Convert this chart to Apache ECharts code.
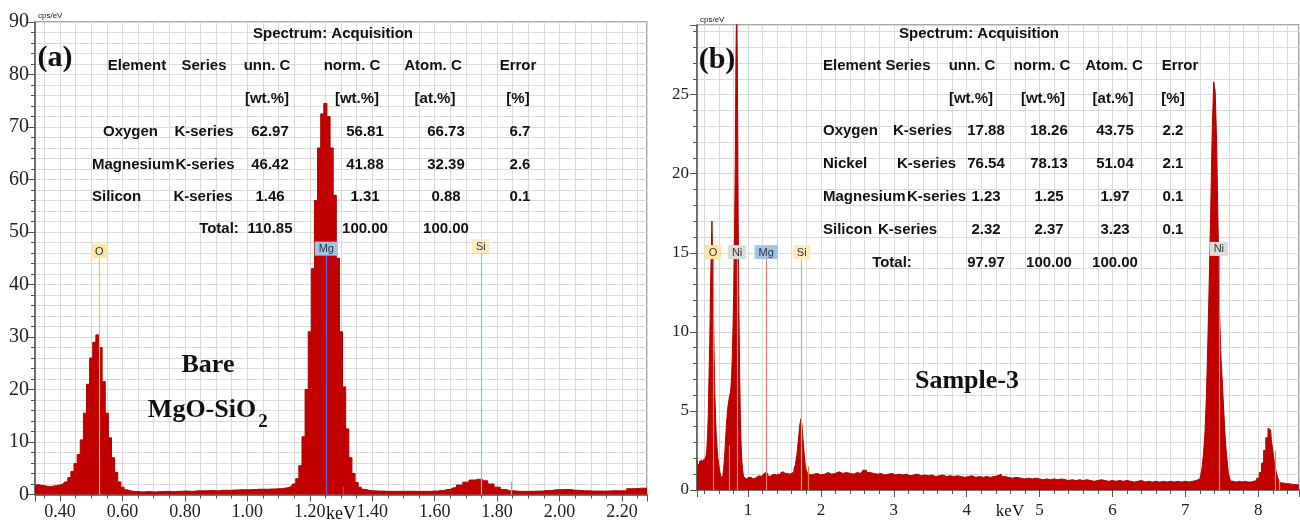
<!DOCTYPE html>
<html>
<head>
<meta charset="utf-8">
<title>EDS spectra</title>
<script src="https://cdn.jsdelivr.net/npm/echarts@6.0.0/dist/echarts.min.js"></script>
<style>
body{margin:0;background:#fff;}
#main{width:1300px;height:523px;}
</style>
</head>
<body>
<div id="main"></div>
<script>
// ---- panel (a): bare MgO-SiO2 spectrum, keV / cps/eV ----
const energyA = [0.32,0.33,0.34,0.35,0.36,0.37,0.38,0.39,0.40,0.41,0.42,0.43,0.44,0.45,0.46,0.47,0.48,0.49,0.50,0.51,0.52,0.53,0.54,0.55,0.56,0.57,0.58,0.59,0.60,0.61,0.62,0.64,0.66,0.68,0.70,0.72,0.74,0.76,0.78,0.80,0.82,0.84,0.86,0.88,0.90,0.92,0.94,0.96,0.98,1.00,1.02,1.04,1.06,1.08,1.10,1.12,1.13,1.14,1.15,1.16,1.17,1.18,1.19,1.20,1.21,1.22,1.23,1.24,1.25,1.26,1.27,1.28,1.29,1.30,1.31,1.32,1.33,1.34,1.35,1.36,1.37,1.38,1.40,1.42,1.45,1.48,1.51,1.54,1.57,1.60,1.62,1.64,1.66,1.68,1.70,1.72,1.74,1.76,1.78,1.80,1.82,1.84,1.87,1.90,1.93,1.96,1.99,2.02,2.05,2.08,2.11,2.14,2.17,2.20,2.23,2.26,2.28]
const countsA = [1.8,1.85,1.75,1.7,1.55,1.5,1.6,1.7,1.8,2.0,2.4,3.2,4.4,5.9,7.6,10.4,15.5,21.0,26.0,29.0,30.4,28.0,21.5,15.5,10.8,7.0,4.2,2.4,1.4,0.9,0.65,0.55,0.5,0.55,0.5,0.55,0.6,0.55,0.6,0.65,0.6,0.7,0.7,0.75,0.7,0.8,0.8,0.85,0.9,0.9,0.95,1.0,1.0,1.05,1.1,1.2,1.3,1.5,2.0,3.0,5.5,11,20,31,43,56,66,72.5,74.5,72,66,57,45,31,20.5,12.5,7,4,2.3,1.4,1.0,0.8,0.7,0.65,0.6,0.6,0.62,0.6,0.6,0.65,0.75,0.95,1.3,1.8,2.35,2.75,2.9,2.6,2.0,1.4,0.95,0.7,0.6,0.6,0.65,0.75,0.9,0.95,0.8,0.7,0.65,0.65,0.7,0.7,1.1,1.2,1.2]

// ---- panel (b): Sample-3 spectrum ----
const energyB = [0.30,0.31,0.32,0.33,0.34,0.35,0.36,0.37,0.38,0.39,0.40,0.41,0.42,0.43,0.44,0.45,0.46,0.47,0.48,0.49,0.50,0.51,0.52,0.53,0.54,0.55,0.56,0.57,0.58,0.59,0.60,0.61,0.62,0.63,0.64,0.65,0.66,0.67,0.68,0.69,0.70,0.71,0.72,0.73,0.74,0.75,0.76,0.77,0.78,0.79,0.80,0.81,0.82,0.83,0.84,0.85,0.86,0.87,0.88,0.89,0.90,0.91,0.92,0.93,0.94,0.95,0.96,0.98,1.00,1.02,1.04,1.06,1.08,1.10,1.12,1.14,1.16,1.18,1.20,1.22,1.24,1.26,1.28,1.30,1.32,1.34,1.36,1.38,1.40,1.42,1.44,1.46,1.48,1.50,1.52,1.54,1.56,1.58,1.60,1.62,1.64,1.66,1.68,1.70,1.72,1.73,1.74,1.75,1.76,1.77,1.78,1.79,1.80,1.82,1.84,1.86,1.88,1.90,1.95,2.00,2.05,2.10,2.15,2.20,2.25,2.30,2.35,2.40,2.45,2.50,2.55,2.60,2.65,2.70,2.75,2.80,2.85,2.90,2.95,3.00,3.05,3.10,3.15,3.20,3.25,3.30,3.35,3.40,3.45,3.50,3.55,3.60,3.65,3.70,3.75,3.80,3.85,3.90,3.95,4.00,4.05,4.10,4.15,4.20,4.25,4.30,4.35,4.40,4.45,4.50,4.55,4.60,4.65,4.70,4.80,4.85,4.90,4.95,5.00,5.05,5.10,5.15,5.20,5.25,5.30,5.35,5.40,5.45,5.50,5.55,5.60,5.65,5.70,5.75,5.80,5.85,5.90,5.95,6.00,6.05,6.10,6.15,6.20,6.25,6.30,6.35,6.40,6.45,6.50,6.55,6.60,6.65,6.70,6.75,6.80,6.85,6.90,6.95,7.00,7.05,7.10,7.15,7.20,7.22,7.24,7.26,7.28,7.30,7.32,7.34,7.36,7.38,7.40,7.42,7.44,7.46,7.48,7.50,7.52,7.54,7.56,7.58,7.60,7.62,7.64,7.68,7.72,7.76,7.80,7.84,7.88,7.92,7.96,8.00,8.03,8.06,8.09,8.12,8.15,8.17,8.19,8.21,8.23,8.25,8.27,8.29,8.32,8.36,8.40,8.45,8.50,8.56]
const countsB = [1.9,1.6,1.7,1.6,1.8,1.7,1.9,1.8,1.7,1.9,1.8,2.0,1.9,2.2,2.6,3.4,4.8,7.2,9.3,12.5,15.0,17.0,14.6,11.2,8.4,6.0,4.5,3.4,2.7,2.1,1.7,1.4,1.1,0.9,0.8,0.75,0.9,1.3,1.9,2.6,3.4,4.2,4.8,5.3,5.6,5.9,6.1,6.4,7.2,8.6,10.4,13.0,16.2,20.5,27.7,31.0,26.0,17.0,11.5,7.5,4.6,2.9,1.9,1.3,0.95,0.8,0.75,0.7,0.8,0.75,0.8,0.7,0.8,0.75,0.85,0.8,0.9,0.85,0.95,1.0,1.1,1.05,0.9,0.85,0.95,0.9,1.0,0.95,1.05,1.0,0.95,1.1,1.15,1.05,1.0,1.05,1.0,1.1,1.05,1.15,1.3,1.6,2.2,3.1,4.1,4.5,4.3,3.8,3.2,2.6,2.0,1.6,1.3,1.1,1.0,0.95,1.05,1.0,1.05,0.95,1.0,1.1,1.0,1.05,1.15,1.05,1.1,1.05,1.0,1.1,1.05,1.25,1.1,1.05,1.0,1.05,0.95,1.0,1.05,0.95,1.0,0.95,1.0,0.9,0.95,1.0,0.9,0.95,0.9,0.95,0.85,0.9,0.95,0.85,0.9,0.85,0.9,0.85,0.8,0.85,0.9,0.8,0.85,0.8,0.85,0.8,0.85,0.9,1.0,0.85,0.8,0.75,0.8,0.75,0.7,0.75,0.7,0.75,0.7,0.65,0.7,0.65,0.7,0.65,0.7,0.65,0.6,0.65,0.6,0.65,0.6,0.65,0.6,0.55,0.6,0.65,0.6,0.55,0.6,0.55,0.6,0.55,0.6,0.55,0.5,0.55,0.6,0.5,0.55,0.5,0.55,0.5,0.55,0.5,0.55,0.5,0.55,0.5,0.55,0.5,0.55,0.6,0.7,0.9,1.4,2.3,3.6,6.0,9.5,13.5,18.0,22.8,25.8,25.2,22.0,16.5,11.2,8.3,6.6,4.8,3.1,2.0,1.1,0.7,0.55,0.5,0.55,0.5,0.55,0.5,0.5,0.55,0.6,0.75,1.1,1.7,2.5,3.3,3.9,3.8,3.2,2.5,1.8,1.3,0.9,0.6,0.45,0.4,0.4,0.35,0.35,0.3]

// element marker lines: name, energy, top of line (cps/eV)
const markNamesA = ['O','Mg','Si']
const markEnergyA = [0.526,1.253,1.748]
const markTopA = [45,45.5,46]
const stubEnergyA = [1.306,1.845]
const stubTopA = [1.5,2.4]

const markNamesB = ['O','Ni','Mg','Si','Ni']
const markEnergyB = [0.52,0.85,1.25,1.737,7.46]
const markTopB = [14.6,14.6,14.6,14.6,14.8]
const stubEnergyB = [0.745,1.82,8.23,8.29]
const stubTopB = [2.8,1.5,2.5,0.6]

// quantification tables
const titleTable = 'Spectrum: Acquisition'
const headA = ['Element','Series','unn. C','norm. C','Atom. C','Error']
const unitsA = ['[wt.%]','[wt.%]','[at.%]','[%]']
const rowsA = [
    ['Oxygen','K-series','62.97','56.81','66.73','6.7'],
    ['Magnesium','K-series','46.42','41.88','32.39','2.6'],
    ['Silicon','K-series','1.46','1.31','0.88','0.1'],
    ['','Total:','110.85','100.00','100.00','']
]
const headB = ['Element Series','unn. C','norm. C','Atom. C','Error']
const unitsB = ['[wt.%]','[wt.%]','[at.%]','[%]']
const rowsB = [
    ['Oxygen','K-series','17.88','18.26','43.75','2.2'],
    ['Nickel','K-series','76.54','78.13','51.04','2.1'],
    ['Magnesium','K-series','1.23','1.25','1.97','0.1'],
    ['Silicon','K-series','2.32','2.37','3.23','0.1'],
    ['','Total:','97.97','100.00','100.00','']
]

// styles
const RED = '#c20000'
const GRID = '#dadada'
const AXIS = '#555'
const SERIF = '"Liberation Serif", "Times New Roman", serif'
const SANS = '"Liberation Sans", Arial, sans-serif'
const colorA = {O:['#f2c14e','#fbe6a4'], Mg:['#6b5fd6','#9fc4e8'], Si:['#5fd3e0','#fdebc0']}
const stubColorA = ['#7a50b0','#4fd0e0']
const colorB = {O:['#f0892a','#fbe6a4'], Ni:['#a0a0a0','#dcdcdc'], Mg:['#e87878','#9fc4e8'], Si:['#78dc78','#fdebc0']}
const stubColorB = ['#a0a0a0','#d08a30','#a0a0a0','#a0a0a0']

function pairs(xs, ys){
    let out = []
    for(let i = 0; i < xs.length; i++) out.push([xs[i], ys[i]])
    return out
}

function markerLines(names, es, tops, colors, stubE, stubT, stubC){
    let data = []
    for(let i = 0; i < names.length; i++){
        let c = colors[names[i]]
        data.push([
            {coord:[es[i], tops[i]], lineStyle:{color:c[0], width:1.2, type:'solid'},
             label:{show:true, position:'start', distance:0, formatter:names[i], backgroundColor:c[1],
                    color:'#333', fontSize:11, fontFamily:SANS, padding:[2,4,1,4]}},
            {coord:[es[i], 0]}
        ])
    }
    for(let i = 0; i < stubE.length; i++){
        data.push([
            {coord:[stubE[i], stubT[i]], lineStyle:{color:stubC[i], width:1.2, type:'solid'}, label:{show:false}},
            {coord:[stubE[i], 0]}
        ])
    }
    return data
}

function txt(x, y, text, size, opts){
    opts = opts || {}
    return {
        type:'text', x:x, y:y, z:20, silent:true,
        style:{
            text:text, fill:'#111',
            fontSize:size, fontWeight:opts.weight || 'bold',
            fontFamily:opts.family || SANS,
            align:opts.align || 'center', verticalAlign:'middle'
        }
    }
}

const TS = 15   // table font size

function tableA(){
    let g = [txt(333, 34, titleTable, TS)]
    const hx = [137, 204, 267, 352, 433, 518]
    headA.forEach((h, i) => g.push(txt(hx[i], 66, h, TS)))
    const ux = [267, 357, 435, 518]
    unitsA.forEach((u, i) => g.push(txt(ux[i], 99, u, TS)))
    const ry = [132, 165, 197, 229]
    const ex = [103, 92, 92]
    const sx = [204, 205, 203]
    const nx = [270, 365, 446, 520]
    rowsA.forEach((r, i) => {
        if(r[0]){
            g.push(txt(ex[i], ry[i], r[0], TS, {align:'left'}))
            g.push(txt(sx[i], ry[i], r[1], TS))
        }else{
            g.push(txt(219, ry[i], r[1], TS))
        }
        for(let k = 2; k < 6; k++) if(r[k]) g.push(txt(nx[k-2], ry[i], r[k], TS))
    })
    return g
}

function tableB(){
    let g = [txt(979, 34, titleTable, TS)]
    g.push(txt(823, 66, headB[0], TS, {align:'left'}))
    const hx = [972, 1042, 1114, 1180]
    for(let i = 1; i < headB.length; i++) g.push(txt(hx[i-1], 66, headB[i], TS))
    const ux = [971, 1043, 1113, 1173]
    unitsB.forEach((u, i) => g.push(txt(ux[i], 99, u, TS)))
    const ry = [131, 164, 197, 230, 263]
    const sx = [893, 897, 907, 878]
    const nx = [986, 1049, 1115, 1173]
    rowsB.forEach((r, i) => {
        if(r[0]){
            g.push(txt(823, ry[i], r[0], TS, {align:'left'}))
            g.push(txt(sx[i], ry[i], r[1], TS, {align:'left'}))
        }else{
            g.push(txt(892, ry[i], r[1], TS))
        }
        for(let k = 2; k < 6; k++) if(r[k]) g.push(txt(nx[k-2], ry[i], r[k], TS))
    })
    return g
}

function xAxisCfg(idx, min, max, split, minorSplit, fmt, size, margin){
    return {
        type:'value', gridIndex:idx, min:min, max:max, splitNumber:split,
        axisLine:{show:true, onZero:false, lineStyle:{color:AXIS, width:1.5}},
        axisTick:{show:true, length:7, lineStyle:{color:AXIS}},
        minorTick:{show:true, splitNumber:minorSplit, length:4, lineStyle:{color:AXIS}},
        splitLine:{show:true, lineStyle:{color:GRID, width:1}},
        minorSplitLine:{show:true, lineStyle:{color:GRID, width:1}},
        axisLabel:{color:'#222', fontFamily:SERIF, fontSize:size, margin:margin,
                   showMinLabel:false, showMaxLabel:false, formatter:fmt}
    }
}

function yAxisCfg(idx, max, size, margin){
    return {
        type:'value', gridIndex:idx, min:0, max:max, interval:5 * (idx === 0 ? 2 : 1),
        axisLine:{show:true, lineStyle:{color:AXIS, width:1.5}},
        axisTick:{show:true, length:7, lineStyle:{color:AXIS}},
        minorTick:{show:true, splitNumber:5, length:4, lineStyle:{color:AXIS}},
        splitLine:{show:true, lineStyle:{color:GRID, width:1}},
        minorSplitLine:{show:true, lineStyle:{color:GRID, width:1}},
        axisLabel:{color:'#222', fontFamily:SERIF, fontSize:size, margin:margin, showMaxLabel:idx === 0}
    }
}

let myChart = echarts.init(document.getElementById('main'))
let option = {
    backgroundColor:'#fff',
    animation:false,
    grid:[
        {left:35, right:653, top:22, bottom:28.5, show:true, borderColor:'#8a8a8a', borderWidth:1.5, backgroundColor:'#fff'},
        {left:697, right:1, top:25, bottom:33, show:true, borderColor:'#8a8a8a', borderWidth:1.5, backgroundColor:'#fff'}
    ],
    xAxis:[
        xAxisCfg(0, 0.32, 2.28, 10, 4, v => v.toFixed(2), 18, 9),
        xAxisCfg(1, 0.3, 8.56, 8, 5, v => String(Math.round(v)), 17, 12)
    ],
    yAxis:[
        yAxisCfg(0, 90, 20, 6),
        yAxisCfg(1, 29.4, 17, 8)
    ],
    series:[
        {
            name:'Bare MgO-SiO2', type:'line', xAxisIndex:0, yAxisIndex:0,
            data:pairs(energyA, countsA), step:'middle', symbol:'none', z:2,
            lineStyle:{color:'#b00000', width:1}, areaStyle:{color:RED, opacity:1}
        },
        {
            name:'markers a', type:'line', xAxisIndex:0, yAxisIndex:0, data:[], z:3,
            markLine:{silent:true, symbol:['none','none'], animation:false,
                      data:markerLines(markNamesA, markEnergyA, markTopA, colorA, stubEnergyA, stubTopA, stubColorA)}
        },
        {
            name:'Sample-3', type:'line', xAxisIndex:1, yAxisIndex:1,
            data:pairs(energyB, countsB), step:'middle', symbol:'none', z:2,
            lineStyle:{color:'#b00000', width:1}, areaStyle:{color:RED, opacity:1}
        },
        {
            name:'markers b', type:'line', xAxisIndex:1, yAxisIndex:1, data:[], z:3,
            markLine:{silent:true, symbol:['none','none'], animation:false,
                      data:markerLines(markNamesB, markEnergyB, markTopB, colorB, stubEnergyB, stubTopB, stubColorB)}
        }
    ],
    graphic:[].concat(
        tableA(),
        tableB(),
        [
            txt(55, 58, '(a)', 30, {family:SERIF}),
            txt(717, 60, '(b)', 30, {family:SERIF}),
            txt(208, 365, 'Bare', 26, {family:SERIF}),
            txt(202, 410, 'MgO-SiO', 26, {family:SERIF}),
            txt(263, 422, '2', 19, {family:SERIF}),
            txt(967, 381, 'Sample-3', 26, {family:SERIF}),
            txt(341, 514, 'keV', 18, {family:SERIF, weight:'normal'}),
            txt(1010, 512, 'keV', 17, {family:SERIF, weight:'normal'}),
            txt(38, 16, 'cps/eV', 8, {weight:'normal', align:'left'}),
            txt(700, 20, 'cps/eV', 8, {weight:'normal', align:'left'})
        ]
    )
}
myChart.setOption(option)
</script>
</body>
</html>
